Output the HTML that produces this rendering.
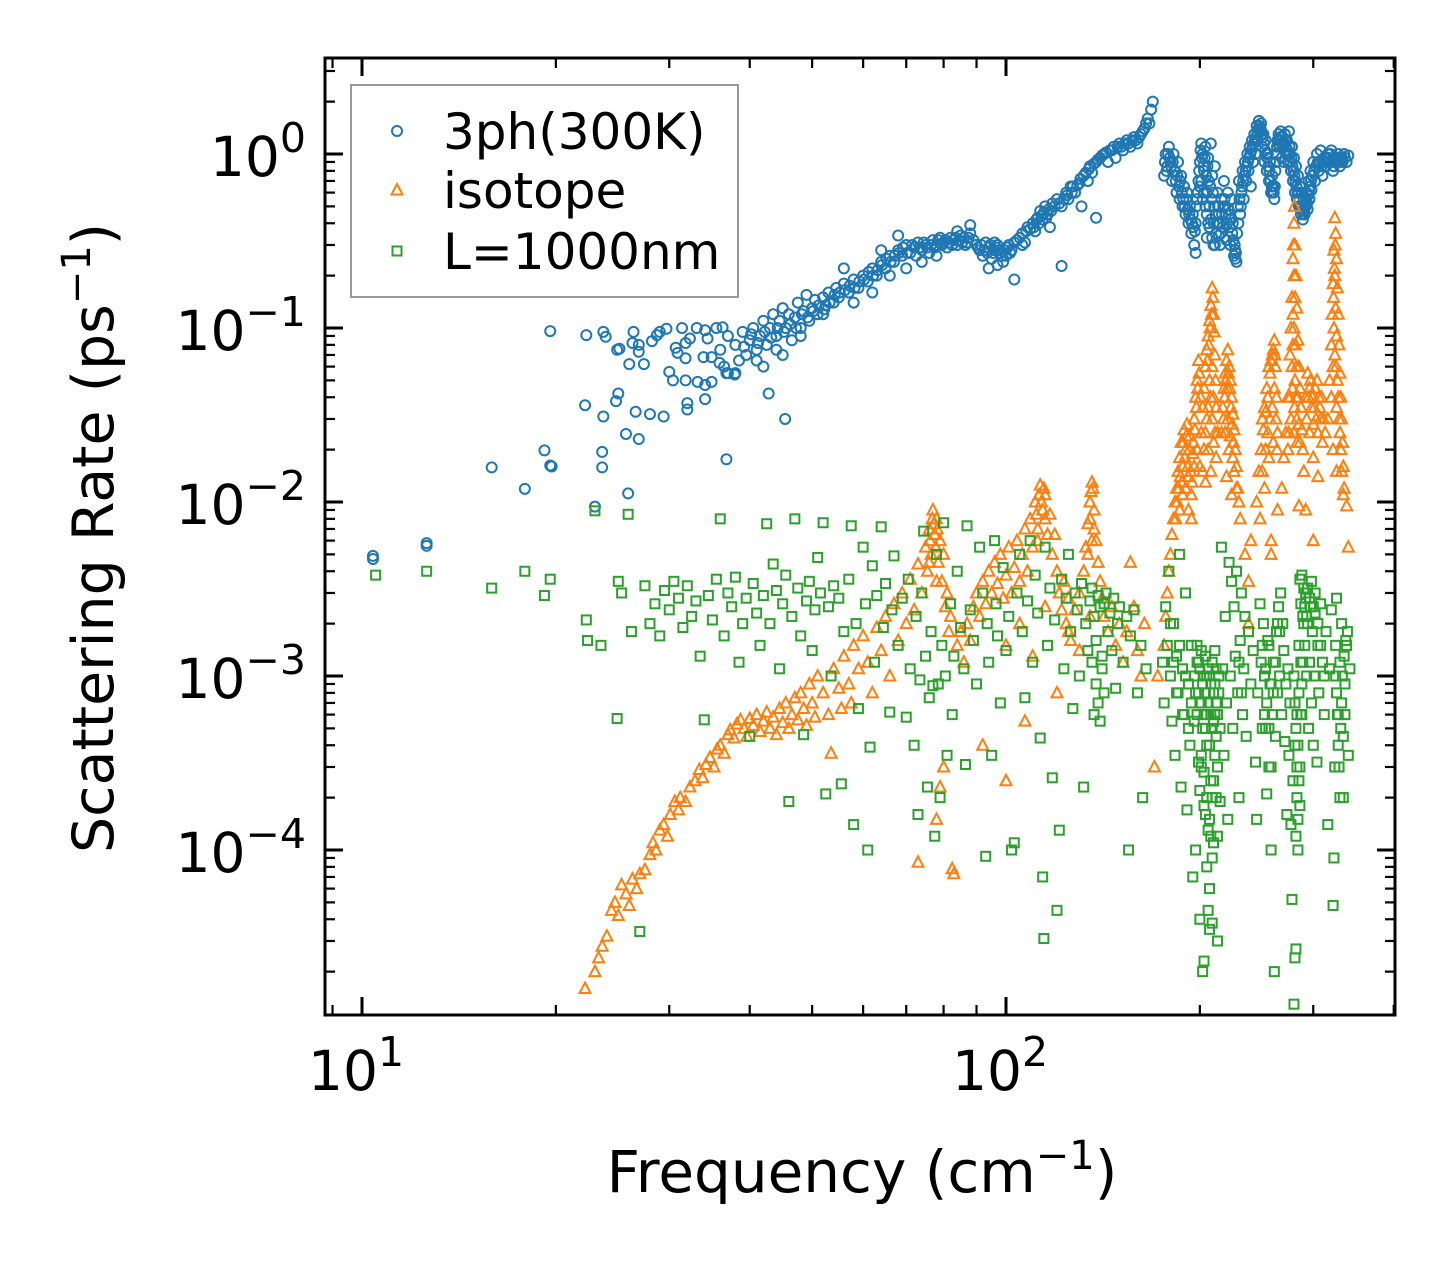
<!DOCTYPE html>
<html><head><meta charset="utf-8"><style>
html,body{margin:0;padding:0;background:#fff;}
svg{display:block;font-family:"DejaVu Sans","Liberation Sans",sans-serif;}
</style></head><body>
<svg id="chart" width="1455" height="1265" viewBox="0 0 1455 1265" xmlns="http://www.w3.org/2000/svg">
<rect x="0" y="0" width="1455" height="1265" fill="#fff"/>
<g id="marks"></g>
<g id="axes"></g>
</svg>
<script>
const xTickValues = [10, 100];
const xTickExps = ["1", "2"];
const yTickValues = [1e-4, 1e-3, 1e-2, 1e-1, 1];
const yTickExps = ["\u22124", "\u22123", "\u22122", "\u22121", "0"];
const seriesNames = ["3ph(300K)", "isotope", "L=1000nm"];

const ph3Points = [
[10.4,4.7e-3],[10.4,4.9e-3],[12.6,5.6e-3],[12.6,5.8e-3],[15.9,0.0158],[17.9,0.0119],[19.2,0.0198],[19.6,0.0162],[19.7,0.016],[19.6,0.096],
[22.3,0.091],[23.7,0.095],[23.9,0.089],[25.1,0.076],[24.9,0.075],[26.4,0.095],[26.3,0.082],[26.9,0.080],[26.9,0.073],[26.0,0.062],[27.4,0.062],
[28.2,0.084],[28.7,0.091],[29.0,0.095],[29.7,0.099],[30.7,0.077],[30.9,0.072],[31.4,0.100],[31.8,0.082],[32.3,0.087],[31.8,0.067],[30.0,0.056],
[30.4,0.050],[31.8,0.050],[33.2,0.049],[34.1,0.047],[34.9,0.049],[32.0,0.037],[32.0,0.034],[34.1,0.039],[33.1,0.100],[34.1,0.097],[34.4,0.087],
[33.9,0.068],[34.9,0.068],[35.9,0.063],[36.8,0.055],[37.9,0.054],[35.5,0.100],[36.3,0.101],[42.8,0.042],[45.4,0.030],[36.8,0.0176],[22.2,0.036],
[23.7,0.031],[24.8,0.038],[25.0,0.042],[26.6,0.033],[28.0,0.032],[29.4,0.031],[25.7,0.0246],[26.9,0.0230],[23.6,0.0194],[23.6,0.0158],[25.9,0.0112],[23.0,0.0094],
[36,0.075],[37,0.09],[38,0.08],[38.5,0.065],[39,0.095],[39.5,0.07],[40,0.085],[40.5,0.1],[41,0.075],[41.5,0.09],[42,0.11],[42.5,0.08],[43,0.1],[43.5,0.12],
[44,0.09],[44.5,0.11],[45,0.13],[45.5,0.1],[46,0.12],[46.5,0.085],[47,0.115],[47.5,0.14],[48,0.1],[48.5,0.125],[49,0.155],[49.5,0.11],[50,0.13],[50.5,0.145],
[51,0.12],[52,0.15],[52.5,0.135],[53,0.16],[54,0.14],[54.5,0.17],[55,0.15],[56,0.18],[57,0.16],[58,0.19],[59,0.17],[60,0.2],[61,0.185],[62,0.22],[63,0.2],
[64,0.24],[65,0.22],[66,0.26],[67,0.24],[68,0.28],[69,0.26],[70,0.3],[71,0.27],[72,0.29],[73,0.31],[74,0.28],[75,0.3],[76,0.27],[77,0.32],[78,0.3],[79,0.33],
[80,0.31],[81,0.29],[82,0.33],[83,0.32],[84,0.3],[85,0.34],[86,0.33],[87,0.31],[88,0.35],[90,0.3],[91,0.28],[92,0.26],[93,0.31],[94,0.29],[95,0.25],[96,0.28],
[97,0.3],[98,0.27],[99,0.24],[100,0.26],[101,0.3],[102,0.28],[103,0.19],[104,0.32],[106,0.35],[107,0.31],[108,0.38],[110,0.4],[111,0.36],[112,0.43],[113,0.47],
[114,0.42],[115,0.5],[116,0.45],[117,0.38],[118,0.52],[122,0.227],[120,0.55],[122,0.5],[124,0.6],[125,0.55],[126,0.65],[128,0.6],[130,0.68],[131,0.5],[132,0.75],
[134,0.7],[135,0.85],[136,0.78],[138,0.9],[138,0.43],[140,0.95],[142,1.0],[144,0.9],[145,1.05],[147,1.1],[148,0.95],[150,1.15],[152,1.05],[154,1.2],[156,1.1],
[158,1.25],[160,1.15],[162,1.3],[164,1.4],[166,1.6],[168,1.8],[169,2.0],[167,1.5],[94,0.22],[97,0.23],[96,0.31],
[58,0.14],[62,0.16],[66,0.2],[70,0.22],[74,0.24],[78,0.26],[52,0.12],[48,0.09],[44,0.075],[41,0.065],[38,0.055],[37,0.055],[36.5,0.06],[42,0.06],[45,0.07],
[56,0.22],[64,0.28],[68,0.34],[84,0.36],[88,0.39],
[39.2,0.078],[40.2,0.092],[41.2,0.082],[42.2,0.095],[43.2,0.088],[44.2,0.1],[45.2,0.095],[46.2,0.105],[47.2,0.1],[48.2,0.12],[49.2,0.115],[50.2,0.125],
[51.2,0.135],[52.2,0.128],[53.2,0.14],[54.2,0.155],[55.2,0.16],[56.2,0.165],[57.2,0.175],[58.2,0.17],[59.2,0.185],[60.2,0.19],[61.2,0.21],[62.2,0.2],
[63.2,0.215],[64.2,0.23],[65.2,0.25],[66.2,0.24],[67.2,0.26],[68.2,0.27],[69.2,0.29],[70.2,0.27],[71.5,0.3],[72.5,0.26],[73.5,0.29],[74.5,0.31],[75.5,0.29],
[76.5,0.3],[77.5,0.29],[78.5,0.32],[79.5,0.3],[80.5,0.32],[81.5,0.31],[82.5,0.3],[83.5,0.33],[84.5,0.32],[85.5,0.31],[86.5,0.3],[87.5,0.33],[89,0.32],
[90.5,0.29],[91.5,0.3],[92.5,0.28],[93.5,0.27],[94.5,0.3],[95.5,0.27],[96.5,0.29],[97.5,0.28],[98.5,0.26],[99.5,0.28],[100.5,0.29],[101.5,0.27],[103,0.31],
[105,0.33],[106,0.3],[107.5,0.36],[109,0.37],[110.5,0.38],[111.5,0.42],[112.5,0.4],[113.5,0.44],[114.5,0.46],[115.5,0.43],[116.5,0.48],[117.5,0.47],[119,0.5],
[121,0.52],[123,0.55],[124.5,0.58],[126.5,0.6],[127,0.65],[129,0.66],[130.5,0.72],[133,0.78],[134.5,0.82],[137,0.88],[139,0.93],[141,0.98],[143,1.02],
[146,1.05],[149,1.1],[151,1.1],[153,1.15],[155,1.15],[157,1.2],[159,1.2],[161,1.25],[163,1.35],[165,1.5],
[176,0.75],[177,1.0],[178,0.85],[179,1.1],[180,0.9],[181,0.7],[182,1.0],[183,0.8],[184,0.6],[185,0.9],[186,0.55],[187,0.75],[188,0.5],[189,0.65],[190,0.45],
[191,0.6],[192,0.4],[193,0.5],[194,0.35],[195,0.45],[196,0.3],[197,0.4],[198,0.55],[199,0.7],[200,0.9],[201,1.15],[202,1.0],[203,0.8],[204,1.1],[205,0.6],
[206,0.95],[207,0.5],[208,1.15],[209,0.75],[210,0.4],[211,0.85],[212,0.35],[213,0.6],[214,0.45],[215,0.3],[216,0.55],[217,0.38],[218,0.7],[219,0.5],[220,0.32],
[221,0.6],[222,0.45],[223,0.3],[224,0.55],[225,0.4],[226,0.26],[227,0.28],[228,0.24],[229,0.5],[230,0.7],[231,0.45],[232,0.6],[233,0.8],[234,0.55],[235,0.9],
[236,0.7],[237,1.0],[238,0.8],[239,1.1],[240,0.65],[241,1.2],[242,0.9],[243,1.3],[244,1.0],[245,1.45],[246,1.2],[247,1.55],[248,1.35],[249,1.5],[250,1.1],
[251,1.3],[252,0.9],[253,1.2],[254,0.8],[255,1.0],[256,0.7],[257,0.9],[258,0.6],[259,0.75],[260,0.65],[261,0.55],[262,0.8],[263,1.0],[264,1.2],[265,1.3],
[266,1.1],[267,1.35],[268,0.95],[269,1.25],[270,0.9],[271,1.3],[272,1.1],[273,1.2],[274,0.9],[275,1.35],[276,1.0],[277,0.8],[278,1.1],[279,0.7],[280,0.95],
[281,0.6],[282,0.85],[283,0.55],[284,0.75],[285,0.5],[286,0.65],[287,0.45],[288,0.6],[289,0.42],[290,0.55],[291,0.45],[292,0.5],[293,0.6],[294,0.48],[295,0.7],
[296,0.55],[297,0.8],[298,0.62],[300,0.9],[302,0.7],[304,1.0],[306,0.8],[308,1.05],[310,0.75],[312,0.95],[314,0.85],[316,1.0],[318,0.9],[320,1.05],[322,0.8],
[324,0.95],[326,0.9],[328,1.0],[330,0.85],[332,0.95],[335,1.0],[338,0.9],[197,0.27],[205,0.33],[210,0.3],[214,0.34],[227,0.25],
[176.5,0.9],[177.5,0.8],[178.5,1.0],[179.5,0.95],[180.5,0.85],[181.5,0.9],[182.5,0.8],[183.5,0.7],[184.5,0.75],[185.5,0.65],[186.5,0.7],[187.5,0.6],
[188.5,0.55],[189.5,0.5],[190.5,0.55],[191.5,0.48],[192.5,0.45],[193.5,0.42],[194.5,0.4],[195.5,0.38],[196.5,0.36],[197.5,0.5],[198.5,0.6],[199.5,0.8],
[200.5,1.05],[201.5,0.95],[202.5,0.85],[203.5,0.95],[204.5,0.75],[205.5,0.85],[206.5,0.7],[207.5,0.65],[208.5,0.55],[209.5,0.6],[210.5,0.5],[211.5,0.45],
[203,0.6],[205,0.45],[207,0.38],[209,0.33],[211,0.3],[201,0.7],[204,0.5],[206,0.4],[208,0.42],[202,0.55],[200,0.65],[212.5,0.4],[213.5,0.5],[214.5,0.4],[215.5,0.35],
[216.5,0.45],[217.5,0.5],[218.5,0.55],[219.5,0.45],[220.5,0.4],[221.5,0.48],[222.5,0.38],[223.5,0.42],[224.5,0.35],[225.5,0.32],[226.5,0.3],[227.5,0.27],
[228.5,0.35],[229.5,0.4],[230.5,0.55],[231.5,0.5],[232.5,0.65],[233.5,0.7],[234.5,0.75],[235.5,0.8],[236.5,0.85],[237.5,0.9],[238.5,0.95],[239.5,1.0],
[240.5,1.05],[241.5,1.1],[242.5,1.15],[243.5,1.2],[244.5,1.25],[245.5,1.3],[246.5,1.4],[247.5,1.45],[248.5,1.4],[249.5,1.3],[250.5,1.25],[251.5,1.15],
[252.5,1.05],[253.5,1.0],[254.5,0.95],[255.5,0.85],[256.5,0.8],[257.5,0.7],[258.5,0.65],[259.5,0.6],[260.5,0.6],[261.5,0.65],[262.5,0.9],[263.5,1.1],
[264.5,1.15],[265.5,1.2],[266.5,1.25],[267.5,1.2],[268.5,1.15],[269.5,1.1],[270.5,1.15],[271.5,1.2],[272.5,1.0],[273.5,1.05],[274.5,1.0],[275.5,1.1],
[276.5,0.9],[277.5,0.95],[278.5,0.85],[279.5,0.8],[280.5,0.75],[281.5,0.7],[282.5,0.65],[283.5,0.6],[284.5,0.6],[285.5,0.55],[286.5,0.5],[287.5,0.5],
[288.5,0.47],[289.5,0.45],[290.5,0.48],[291.5,0.5],[292.5,0.55],[293.5,0.52],[294.5,0.58],[295.5,0.62],[296.5,0.65],[297.5,0.7],[299,0.75],[301,0.8],
[303,0.85],[305,0.9],[307,0.9],[309,0.85],[311,0.9],[313,0.95],[315,0.9],[317,0.95],[319,1.0],[321,0.9],[323,0.85],[325,0.9],[327,0.95],[329,0.9],
[331,0.95],[333,0.9],[336,0.95],[340,0.98]
];

const isotopePoints = [
[22.2,1.6e-5],[23.0,2.0e-5],[23.3,2.4e-5],[23.6,2.8e-5],[24.0,3.2e-5],[24.4,4.5e-5],[24.7,5.0e-5],[25.0,4.2e-5],[25.3,6.3e-5],[25.7,5.6e-5],[26.0,4.8e-5],
[26.3,6.8e-5],[26.7,6.0e-5],[27.0,7.3e-5],[27.5,7.7e-5],[28.0,9.4e-5],[28.3,1.1e-4],[28.6,1.0e-4],[29.0,1.3e-4],[29.4,1.4e-4],[29.8,1.2e-4],[30.1,1.6e-4],
[30.6,1.9e-4],[31.0,1.7e-4],[31.2,2.0e-4],[31.8,1.9e-4],[32.3,2.3e-4],[32.9,2.5e-4],[33.4,2.9e-4],[33.8,2.6e-4],[34.2,3.1e-4],[34.7,3.4e-4],[35.2,3.0e-4],
[35.6,3.8e-4],[36.0,4.0e-4],[36.5,3.6e-4],[37.0,4.6e-4],[37.3,4.9e-4],[37.8,4.4e-4],[38.2,5.3e-4],[38.7,5.6e-4],[39.2,5.0e-4],[39.6,4.5e-4],[40.0,5.7e-4],
[40.5,5.2e-4],[41,6.0e-4],[41.5,4.8e-4],[42,5.5e-4],[42.5,6.2e-4],[43,5.0e-4],[43.5,5.8e-4],[44,4.6e-4],[44.5,6.5e-4],[45,5.4e-4],[45.5,7.0e-4],[46,5.0e-4],
[46.5,6.0e-4],[47,7.5e-4],[47.5,5.6e-4],[48,8.0e-4],[48.5,6.5e-4],[49,5.2e-4],[49.5,9.0e-4],[50,7.0e-4],[50.5,5.8e-4],[51,1.0e-3],[52,8.0e-4],[53,6.0e-4],
[53.5,3.6e-4],[54,1.1e-3],[55,8.5e-4],[55.5,6.5e-4],[56,1.3e-3],[57,9.0e-4],[57.5,7e-4],[58,1.5e-3],[59,1.1e-3],[60,1.7e-3],[61,1.2e-3],[62,8.0e-4],
[63,1.9e-3],[64,1.4e-3],[65,2.2e-3],[66,1.0e-3],[67,2.6e-3],[68,1.6e-3],[69,3.0e-3],[70,2.0e-3],[71,3.6e-3],[72,2.4e-3],[73,4.4e-3],[74,3.0e-3],[75,5.5e-3],
[75.5,4.0e-3],[76,7.0e-3],[76.5,5.0e-3],[77,9.0e-3],[77.5,6.5e-3],[78,8.0e-3],[78.5,4.5e-3],[79,6.0e-3],[79.5,3.5e-3],[80,5.0e-3],[80.5,2.5e-3],[81,3.0e-3],
[81.5,1.8e-3],[82,2.2e-3],[82.5,7.8e-5],[83,7.3e-5],[84,1.5e-3],[85,1.8e-3],[86,1.2e-3],[73,8.5e-5],[78,1.5e-4],[79,2.3e-4],[80,3.0e-4],[87,2.0e-3],
[88,1.6e-3],[89,2.5e-3],[90,3.0e-3],[91,2.2e-3],[92,3.5e-3],[93,2.6e-3],[94,4.0e-3],[95,3.0e-3],[96,4.5e-3],[97,3.4e-3],[98,5.0e-3],[99,2.8e-3],[100,3.8e-3],
[101,5.5e-3],[102,3.0e-3],[103,4.2e-3],[104,6.0e-3],[105,3.5e-3],[106,5.0e-3],[107,7.0e-3],[108,4.0e-3],[109,8.0e-3],[110,5.5e-3],[111,1.0e-2],[112,7.0e-3],
[113,1.25e-2],[114,9.0e-3],[115,1.1e-2],[116,6.5e-3],[117,8.5e-3],[118,5.0e-3],[119,6.5e-3],[120,4.0e-3],[121,3.0e-3],[122,2.4e-3],[123,3.5e-3],[124,2.0e-3],
[125,2.8e-3],[126,1.6e-3],[128,2.4e-3],[130,3.0e-3],[132,4.0e-3],[133,5.5e-3],[134,7.5e-3],[135,1.0e-2],[136,1.3e-2],[137,9.0e-3],[138,6.0e-3],[139,4.5e-3],
[140,3.5e-3],[141,2.8e-3],[142,2.2e-3],[144,1.8e-3],[146,2.5e-3],[148,1.5e-3],[150,2.0e-3],[152,1.2e-3],[154,1.8e-3],[156,4.5e-3],[158,2.5e-3],[160,1.4e-3],
[162,1.0e-3],[164,2.0e-3],[170,3.0e-4],[172,1.0e-3],[107,5.5e-4],[100,2.5e-4],[120,8e-4],[92,4e-4],
[100,1.5e-3],[105,2e-3],[110,1.3e-3],[115,2.5e-3],[125,1.8e-3],[130,1.4e-3],[135,2.2e-3],
[76.2,6e-3],[76.8,8e-3],[77.2,7.5e-3],[77.8,5.5e-3],[78.2,7e-3],[76,4.5e-3],[78,3.5e-3],[111.5,8.5e-3],[112.5,1.1e-2],[113.5,1.0e-2],[114.5,1.2e-2],
[112,6e-3],[115,8e-3],[135.5,1.15e-2],[136.5,1.2e-2],[135,8e-3],[137,7e-3],[136,6e-3],[134,5e-3],
[176,1.5e-3],[177,2.2e-3],[178,3e-3],[179,4e-3],[180,5e-3],[181,6.5e-3],[182,8e-3],[183,1.0e-2],[184,1.2e-2],[185,1.5e-2],[186,1.8e-2],[187,2.2e-2],
[188,1.6e-2],[189,2.6e-2],[190,2.0e-2],[191,2.8e-2],[192,1.4e-2],[193,2.4e-2],[194,1.1e-2],[195,1.9e-2],[196,3.0e-2],[197,4.0e-2],[198,5.0e-2],[199,6.5e-2],
[183.5,8e-3],[184.5,1e-2],[185.5,1.2e-2],[186.5,1.4e-2],[187.5,1.3e-2],[188.5,2.2e-2],[189.5,1.8e-2],[190.5,2.4e-2],[191.5,1.6e-2],[192.5,2e-2],[193.5,1.5e-2],
[194.5,1.3e-2],[195.5,2.2e-2],[196.5,2.6e-2],[197.5,3.5e-2],[198.5,4.5e-2],[199.5,5.5e-2],[200.5,4e-2],[190,1.2e-2],[192,9e-3],[194,8e-3],[188,1.1e-2],
[186,9e-3],[196,1.6e-2],[198,2e-2],[200,1.6e-2],
[201,2.5e-2],[202,3.5e-2],[203,4.5e-2],[204,6e-2],[205,7.5e-2],[206,9e-2],[207,1.1e-1],[208,1.35e-1],[209,1.7e-1],[209.5,1.5e-1],[210,1.2e-1],[210.5,9.5e-2],
[211,7e-2],[211.5,5e-2],[212,3.5e-2],[213,2.5e-2],[206,2e-2],[208,1.5e-2],[210,2.2e-2],[204,1.3e-2],
[205.5,6.5e-2],[206.5,8e-2],[207.5,1.0e-1],[208.5,1.2e-1],[207,5e-2],[208,4e-2],[209,3e-2],[210,4e-2],[206,3.5e-2],[205,3e-2],[204,2.5e-2],[211,2.5e-2],
[212,1.8e-2],[209,6e-2],[203,2e-2],[202,1.5e-2],
[216,2.5e-2],[217,3.5e-2],[218,4.5e-2],[219,5.5e-2],[220,6.5e-2],[221,7.5e-2],[222,6e-2],[223,5e-2],[224,4e-2],[225,3.2e-2],[226,2.6e-2],[227,2e-2],
[228,1.6e-2],[229,1.2e-2],[230,1.0e-2],[231,8e-3],[220,1.4e-2],[224,1.1e-2],[226,1.5e-2],[235,5e-3],[238,3.5e-3],[240,6e-3],
[217.5,3e-2],[218.5,4e-2],[219.5,5e-2],[220.5,4.5e-2],[221.5,5.5e-2],[222.5,4.5e-2],[223.5,3.5e-2],[224.5,2.8e-2],[225.5,2.2e-2],[219,2.5e-2],[221,3e-2],
[223,2.4e-2],[222,2e-2],[225,1.8e-2],[228,1.2e-2],
[245,1e-2],[247,1.5e-2],[249,2e-2],[251,2.6e-2],[253,3.3e-2],[255,4e-2],[257,5.5e-2],[259,7e-2],[261,8.5e-2],[262,6e-2],[263,4e-2],[264,2.5e-2],
[248,8e-3],[252,1.2e-2],[256,1.8e-2],[260,2.2e-2],[264,9e-3],[258,6e-3],
[250,3e-2],[252,3.5e-2],[254,4.5e-2],[256,6e-2],[258,6.5e-2],[260,7.5e-2],[261.5,7e-2],[255,2.5e-2],[257,3e-2],[259,3.5e-2],[261,4.5e-2],[253,2e-2],
[250,1.5e-2],[262.5,3e-2],[263.5,2e-2],
[268,1.2e-2],[270,1.8e-2],[272,2.5e-2],[274,4e-2],[276,7e-2],[277,1e-1],[278,1.5e-1],[279,2.5e-1],[280,4e-1],[280.5,5e-1],[281,3e-1],[282,2e-1],[283,1.3e-1],
[284,8.5e-2],[285,6e-2],[286,4.5e-2],[287,3.5e-2],[288,2.6e-2],[289,2e-2],[290,1.5e-2],[278,6e-2],[282,4e-2],[280,2.5e-2],[283,2.2e-2],
[279.5,3e-1],[280,2e-1],[279,1.2e-1],[281,1.5e-1],[280,1e-1],[281.5,8e-2],[279,8e-2],[282.5,6e-2],[278.5,4.5e-2],[284,4e-2],[280.5,3.5e-2],[281,5e-2],
[283,3e-2],[285,2.8e-2],[286,2.2e-2],[277,3e-2],[276,4e-2],[275,2.5e-2],[274,2e-2],
[292,4e-2],[294,5.5e-2],[296,4.5e-2],[298,3.5e-2],[300,2.8e-2],[302,4.5e-2],[304,5e-2],[306,4e-2],[308,3e-2],[310,2.2e-2],[296,2.5e-2],[300,1.8e-2],
[305,1.4e-2],[292,9e-3],[293,3e-2],[295,4e-2],[297,5e-2],[299,4e-2],[301,3.5e-2],[303,3e-2],[305,2.5e-2],[307,3.5e-2],[309,4e-2],[311,3e-2],[313,2.5e-2],
[316,3e-2],[318,5e-2],[320,8e-2],[321,1.2e-1],[322,1.8e-1],[323,2.8e-1],[324,4.3e-1],[325,3.5e-1],[326,2.5e-1],[327,1.7e-1],[328,1.2e-1],[329,8e-2],
[330,5.5e-2],[331,4e-2],[332,3e-2],[333,2.2e-2],[334,1.6e-2],[335,1.2e-2],[322,2e-2],[326,1.5e-2],[338,9.5e-3],[340,5.5e-3],[285,9.5e-3],[300,6e-3],
[258,5e-3],[238,2e-3],
[322.5,1.5e-1],[323.5,2.2e-1],[324.5,3e-1],[324,2e-1],[325,1.3e-1],[323,1e-1],[326,9e-2],[324,7e-2],[325.5,6e-2],[327,5e-2],[322,6e-2],[328,4e-2],
[329,3e-2],[330,2.5e-2],[331,2e-2],[326,3.5e-2],[320,4e-2],[332,1.5e-2],[334,1.1e-2]
];

const boundaryPoints = [
[10.5,3.8e-3],[12.6,4.0e-3],[15.9,3.2e-3],[17.9,4.0e-3],[19.2,2.9e-3],[19.6,3.6e-3],[22.3,2.1e-3],[22.4,1.6e-3],[23.0,8.9e-3],[23.5,1.5e-3],[24.9,5.7e-4],
[25.0,3.5e-3],[25.3,3.0e-3],[25.9,8.5e-3],[26.2,1.8e-3],[27,3.4e-5],[27.5,3.3e-3],[28,2.0e-3],[28.5,2.6e-3],[29,1.7e-3],[29.5,3.1e-3],[30,2.4e-3],[30.5,3.5e-3],
[31,2.8e-3],[31.5,1.9e-3],[32,3.3e-3],[32.5,2.2e-3],[33,2.7e-3],[33.5,1.3e-3],[34,5.6e-4],[34.5,2.9e-3],[35,2.1e-3],[35.5,3.6e-3],[36,8.0e-3],[36.5,1.7e-3],
[37,3.0e-3],[37.5,2.5e-3],[38,3.7e-3],[38.5,1.2e-3],[39,2.0e-3],[39.5,2.8e-3],[40,4.5e-4],[40.5,3.4e-3],[41,2.3e-3],[41.5,1.5e-3],[42,2.9e-3],[42.5,7.5e-3],
[43,2.0e-3],[43.5,4.4e-3],[44,3.1e-3],[44.5,1.1e-3],[45,2.6e-3],[45.5,3.8e-3],[46,1.9e-4],[46.5,2.2e-3],[47,8.0e-3],[47.5,3.2e-3],[48,1.7e-3],[48.5,4.6e-4],
[49,2.7e-3],[49.5,3.5e-3],[50,1.4e-3],[50.5,2.4e-3],[51,4.8e-3],[51.5,3.0e-3],[52,7.6e-3],[52.5,2.1e-4],[53,2.5e-3],[53.5,1.0e-3],[54,3.3e-3],[55,2.8e-3],
[55.5,2.4e-4],[56,1.8e-3],[57,3.6e-3],[57.5,7.3e-3],[58,1.4e-4],[58.5,2.0e-3],[59,6.5e-4],[60,5.5e-3],[60.5,2.6e-3],[61,1.0e-4],[61.5,3.9e-4],[62,4.3e-3],
[62.5,1.2e-3],[63,2.9e-3],[64,7.2e-3],[64.5,1.9e-3],[65,3.4e-3],[66,6.2e-4],[66.5,2.4e-3],[67,4.9e-3],[68,1.5e-3],[69,2.8e-3],[70,5.8e-4],[70.5,3.6e-3],
[71,1.1e-3],[72,4.0e-4],[72.5,2.2e-3],[73,1.6e-4],[73.5,9.5e-4],[74,3.0e-3],[74.5,6.8e-3],[75,1.3e-3],[75.5,2.3e-4],[76,7.5e-4],[76.5,1.8e-3],[77,8.8e-4],
[77.5,1.2e-4],[78,5.0e-3],[78.5,9.0e-4],[79,2.0e-4],[79.5,1.5e-3],[80,7.6e-3],[80.5,1.0e-3],[81,3.5e-4],[82,2.6e-3],[82.5,6.0e-4],[83,1.3e-3],[84,4.0e-3],
[85,1.9e-3],[86,1.1e-3],[86.5,3.1e-4],[87,7.3e-3],[88,2.4e-3],[89,1.6e-3],[90,9.0e-4],[91,5.5e-3],[92,3.0e-3],[93,9.2e-5],[93.5,2.0e-3],[94,1.2e-3],[95,3.5e-4],
[96,6.0e-3],[96.5,2.6e-3],[97,1.7e-3],[98,7.0e-4],[99,4.2e-3],[100,1.4e-3],[101,2.2e-3],[102,1.0e-4],[103,1.1e-4],[104,3.0e-3],[105,5.0e-3],[106,1.8e-3],
[107,7.5e-4],[108,2.7e-3],[109,6.0e-3],[110,1.2e-3],[111,3.8e-3],[112,2.3e-3],[113,4.4e-4],[114,7.0e-5],[114.5,3.1e-5],[115,5.5e-3],[116,1.5e-3],[117,3.2e-3],
[118,2.6e-4],[119,2.1e-3],[120,4.5e-5],[121,1.3e-4],[122,3.6e-3],[123,1.1e-3],[124,2.8e-3],[125,5.0e-3],[126,1.8e-3],[127,6.5e-4],[128,3.0e-3],[129,2.4e-3],
[130,1.0e-3],[131,3.4e-3],[132,2.3e-4],[133,2.0e-3],[134,1.4e-3],[135,2.7e-3],[136,3.2e-3],[137,2.2e-3],[138,1.6e-3],[139,2.9e-3],[140,2.5e-3],[141,1.1e-3],
[142,2.6e-3],[143,3.0e-3],[144,1.8e-3],[145,2.3e-3],[146,1.4e-3],[147,2.8e-3],[148,8.5e-4],[149,2.0e-3],[150,2.5e-3],[152,1.2e-3],[154,2.2e-3],[155,1.0e-4],
[156,1.7e-3],[158,2.4e-3],[160,8.0e-4],[162,1.5e-3],[163,2.0e-4],[165,1.1e-3],[138,9e-4],[139,7e-4],[140,5.5e-4],[141,1.3e-3],[142,8e-4],[137,6e-4],[136,1.2e-3],
[175,1.2e-3],[176,7e-4],[177,2.5e-3],[178,1.5e-3],[179,4.0e-3],[180,1.0e-3],[181,5.5e-4],[182,2.0e-3],[183,3.5e-4],[184,1.3e-3],[185,8e-4],[186,5.0e-3],
[187,2.3e-4],[188,1.1e-3],[189,6e-4],[190,3.0e-3],[191,1.7e-4],[192,9e-4],[193,4e-4],[194,1.5e-3],[195,7e-5],[196,5.5e-4],[197,1.0e-4],[198,1.2e-3],[199,3.2e-4],
[200,4.0e-5],[201,7e-4],[202,2.0e-5],[203,1.8e-4],[204,5e-4],[205,1.0e-3],[206,1.3e-4],[207,3.5e-5],[208,6e-4],[209,9e-5],[210,2.5e-4],[211,1.4e-3],[212,4.5e-4],
[213,3.0e-5],[214,8e-4],[215,1.9e-4],[216,5.5e-3],[217,1.1e-3],[218,3.5e-4],[219,2.2e-3],[220,7e-4],[221,1.5e-4],[222,4.5e-3],[223,1.0e-3],[224,3.5e-3],
[225,5.0e-4],[226,2.5e-3],[227,1.3e-3],[228,4e-3],[229,8e-4],[230,2.0e-4],[231,1.6e-3],[232,3.0e-3],[233,6e-4],[234,1.1e-3],[235,2.2e-3],[236,4.5e-4],
[238,1.8e-3],[240,9e-4],[242,1.4e-3],[244,3.2e-4],[245,1.5e-4],[246,8e-4],[248,2.6e-3],[249,1.2e-3],[250,5e-4],[251,2.0e-3],[252,6e-4],[253,1.1e-3],[254,2.1e-4],
[255,1.6e-3],[256,3.0e-4],[257,9e-4],[258,1.0e-4],[259,6e-4],[260,1.2e-3],[261,2.0e-5],[262,4.5e-4],[263,1.8e-3],[264,8e-4],[265,2.5e-3],[266,1.0e-3],[267,3e-3],
[268,6e-4],[269,2.0e-3],[270,1.4e-3],[271,4.2e-4],[272,9e-4],[273,1.6e-4],[274,1.1e-3],[275,3.5e-4],[276,7e-4],[277,1.4e-4],[278,5.2e-5],[279,2.5e-4],
[280,1.3e-5],[281,2.4e-5],[282,2.7e-5],[283,6e-4],[284,1.0e-4],[285,1.5e-3],[286,3.6e-3],[287,2.6e-3],[288,3.8e-3],[289,2.2e-3],[290,3.2e-3],[291,1.5e-3],
[292,2.8e-3],[293,1.0e-3],[294,2.0e-3],[295,5e-4],[296,1.2e-3],[297,2.5e-3],[298,7.0e-4],[299,1.8e-3],[300,4e-4],[301,1.0e-3],[302,2.3e-3],[304,3.2e-4],
[305,1.5e-3],[306,8e-4],[308,2.6e-3],[310,1.2e-3],[312,6e-4],[314,1.8e-3],[316,1.4e-4],[318,1.1e-3],[320,2.4e-3],[322,4.8e-5],[323,9e-5],[324,3.0e-4],
[325,1.5e-3],[326,2.8e-3],[328,6e-4],[330,1.2e-3],[332,2.0e-3],[334,4.5e-4],[336,9e-4],[338,1.5e-3],[340,3.5e-4],[342,1.1e-3],
[198,6e-4],[199,8e-4],[200,1.1e-3],[201,3.5e-4],[202,9e-4],[203,6e-4],[204,1.3e-3],[205,4e-4],[206,7e-4],[207,1.0e-3],[208,2.5e-4],[209,5e-4],[210,8e-4],
[211,6e-4],[212,1.1e-3],[213,3e-4],[200,2.2e-4],[204,1.6e-4],[208,1.2e-4],[212,2e-4],[206,4.5e-5],[209,3.8e-5],[203,2.3e-5],[253,5e-4],[256,1.5e-3],[258,9e-4],
[281,4e-4],[283,2e-4],[285,8e-4],[287,1.2e-3],[288,6e-4],[286,3e-4],[284,1.5e-4],[282,1.2e-4],[334,2e-4],[336,6e-4],[339,1.8e-3],
[196,1.0e-3],[197,8e-4],[198,1.5e-3],[199,1.2e-3],[200,7e-4],[201,1.4e-3],[202,5e-4],[203,1.0e-3],[204,8e-4],[205,6e-4],[206,1.1e-3],[207,4e-4],[208,9e-4],
[209,1.2e-3],[210,5.5e-4],[211,9e-4],[212,7e-4],[213,6e-4],[214,1.0e-3],[215,5e-4],[201,3e-4],[203,2.8e-4],[205,2e-4],[207,1.5e-4],[209,2e-4],[211,3.5e-4],
[213,1.2e-4],[205,8e-5],[207,6e-5],[210,1.1e-4],[180,2e-3],[182,1.2e-3],[184,8e-4],[186,1.5e-3],[188,6e-4],[190,1.0e-3],[192,5e-4],[194,7e-4],[230,1.2e-3],
[232,8e-4],[250,1.5e-3],[252,1.0e-3],[254,7e-4],[256,5e-4],[258,3e-4],[260,8e-4],[262,1.2e-3],[264,2e-3],[266,1.8e-3],[280,1e-3],[281,7e-4],[282,5e-4],
[283,3e-4],[284,4e-4],[285,2.5e-4],[286,1.8e-4],[287,6e-4],[288,9e-4],[289,1.2e-3],[290,2e-3],[291,2.5e-3],[292,3e-3],[293,2.2e-3],[294,3.2e-3],[296,2.8e-3],
[298,3.5e-3],[300,2.5e-3],[302,3e-3],[305,2e-3],[308,1.5e-3],[312,1e-3],[325,1e-3],[326,8e-4],[327,6e-4],[328,4e-4],[329,3e-4],[330,2e-4],[331,5e-4],
[332,7e-4],[333,1e-3],[335,1.3e-3],[337,1.6e-3]
];

const NS = "http://www.w3.org/2000/svg";
const PL = 325, PR = 1395, PT = 58, PB = 1015;
function xScale(f){ return 362 + 644 * (Math.log10(f) - 1); }
function yScale(r){ return 154 - 174 * Math.log10(r); }
function mk(tag, attrs, parent){
  const e = document.createElementNS(NS, tag);
  for (const k in attrs) e.setAttribute(k, attrs[k]);
  parent.appendChild(e);
  return e;
}
const marks = document.getElementById("marks");
const axes = document.getElementById("axes");
const BLUE = "#1f77b4", ORANGE = "#ff7f0e", GREEN = "#2ca02c";

function circleMark(parent, x, y){
  return mk("circle", {cx:x, cy:y, r:5, fill:"none", stroke:BLUE, "stroke-width":2}, parent);
}
function triMark(parent, x, y){
  return mk("polygon", {points:(x)+","+(y-6)+" "+(x-5.5)+","+(y+4.5)+" "+(x+5.5)+","+(y+4.5), fill:"none", stroke:ORANGE, "stroke-width":2}, parent);
}
function sqMark(parent, x, y){
  return mk("rect", {x:x-4.5, y:y-4.5, width:9, height:9, fill:"none", stroke:GREEN, "stroke-width":2}, parent);
}

const clip = mk("clipPath", {id:"plotclip"}, marks);
mk("rect", {x:PL, y:PT, width:PR-PL, height:PB-PT}, clip);

const g1 = mk("g", {"clip-path":"url(#plotclip)"}, marks);


ph3Points.forEach(p => {
  const m = circleMark(g1, xScale(p[0]), yScale(p[1]));
  
  
});
const g2 = mk("g", {"clip-path":"url(#plotclip)"}, marks);


isotopePoints.forEach(p => {
  const m = triMark(g2, xScale(p[0]), yScale(p[1]));
  
  
});
const g3 = mk("g", {"clip-path":"url(#plotclip)"}, marks);


boundaryPoints.forEach(p => {
  const m = sqMark(g3, xScale(p[0]), yScale(p[1]));
  
  
});

function tickLine(x1,y1,x2,y2,w,name){
  const l = mk("line", {x1:x1,y1:y1,x2:x2,y2:y2,stroke:"#000","stroke-width":w}, axes);
  
  
}
const MAJ = 18, MIN = 10;
for (let d = 0; d <= 2; d++) {
  for (let m = 1; m <= 9; m++) {
    const v = m * Math.pow(10, d);
    const x = xScale(v);
    if (x < PL + 1 || x > PR - 1) continue;
    const major = (m === 1);
    const len = major ? MAJ : MIN, w = major ? 3 : 2.2;
    tickLine(x, PB, x, PB - len, w, major ? "x-major-tick" : "x-minor-tick");
    tickLine(x, PT, x, PT + len, w, major ? "x-major-tick-top" : "x-minor-tick-top");
  }
}
for (let d = -5; d <= 0; d++) {
  for (let m = 1; m <= 9; m++) {
    const v = m * Math.pow(10, d);
    const y = yScale(v);
    if (y < PT + 1 || y > PB - 1) continue;
    const major = (m === 1);
    const len = major ? MAJ : MIN, w = major ? 3 : 2.2;
    tickLine(PL, y, PL + len, y, w, major ? "y-major-tick" : "y-minor-tick");
    tickLine(PR, y, PR - len, y, w, major ? "y-major-tick-right" : "y-minor-tick-right");
  }
}
const frame = mk("rect", {x:PL, y:PT, width:PR-PL, height:PB-PT, fill:"none", stroke:"#000", "stroke-width":3}, axes);



function powLabel(x, y, exp, anchor, name){
  const t = mk("text", {x:x, y:y, "font-size":55, "text-anchor":anchor, fill:"#000"}, axes);
  
  
  const a = document.createElementNS(NS, "tspan"); a.textContent = "10"; t.appendChild(a);
  const b = document.createElementNS(NS, "tspan"); b.textContent = exp;
  b.setAttribute("dy", "-24"); b.setAttribute("font-size", "41"); t.appendChild(b);
}
xTickValues.forEach((v, i) => {
  powLabel(xScale(v) - 6, 1090, xTickExps[i], "middle", "x-tick-label");
});
yTickValues.forEach((v, i) => {
  powLabel(306, yScale(v) + 22, yTickExps[i], "end", "y-tick-label");
});

const xt = mk("text", {x:862, y:1192, "font-size":58, "text-anchor":"middle", fill:"#000"}, axes);


xt.innerHTML = 'Frequency (cm<tspan dy="-23" font-size="40">\u22121</tspan><tspan dy="23">)</tspan>';
const yt = mk("text", {x:0, y:0, "font-size":57, "text-anchor":"middle", fill:"#000", transform:"translate(113,538) rotate(-90)"}, axes);


yt.innerHTML = 'Scattering Rate (ps<tspan dy="-23" font-size="40">\u22121</tspan><tspan dy="23">)</tspan>';

const lg = mk("g", {}, axes);


mk("rect", {x:351, y:85, width:387, height:212, fill:"#fff", "fill-opacity":0.8, stroke:"#999", "stroke-width":2}, lg);
const legY = [131, 190, 251];
seriesNames.forEach((name, i) => {
  const y = legY[i];
  let m;
  if (i === 0) m = circleMark(lg, 397, y);
  else if (i === 1) m = triMark(lg, 397, y);
  else m = sqMark(lg, 397, y);
  
  
  const t = mk("text", {x:443, y:y + 18, "font-size":50, fill:"#000"}, lg);
  
  
  t.textContent = name;
});
</script>
</body></html>
